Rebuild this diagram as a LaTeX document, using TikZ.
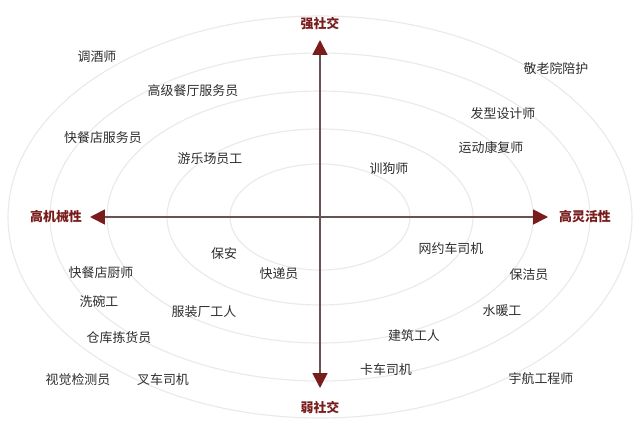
\documentclass[tikz,border=0pt]{standalone}
\usepackage{fontspec}
\usepackage{tikz}
\usetikzlibrary{arrows.meta}
\newfontfamily\cjk{Noto Sans CJK SC}
\definecolor{axisgray}{HTML}{6B5252}
\definecolor{axisred}{HTML}{7A1C1C}
\definecolor{ringgray}{HTML}{EAEAEA}
\definecolor{jobtext}{HTML}{2E2E2E}

\begin{document}
\begin{tikzpicture}[x=0.025cm, y=-0.025cm,
    ring/.style={draw=ringgray, line width=0.8pt},
    axisline/.style={draw=axisgray, line width=1.2pt,
        {Triangle[length=10.5pt, width=10.5pt, color=axisred]}-{Triangle[length=10.5pt, width=10.5pt, color=axisred]}},
    axislabel/.style={font=\cjk\bfseries\fontsize{9.2}{11}\selectfont, text=axisred, inner sep=1pt},
    job/.style={font=\cjk\fontsize{9.2}{11}\selectfont, text=jobtext, inner sep=1pt}
    ]

    \useasboundingbox[fill=white] (0,0) rectangle (640,427);

    % rings round the centre
    \coordinate (O) at (320,217);
    \draw[ring] (O) ellipse [x radius=90, y radius=53];
    \draw[ring] (O) ellipse [x radius=153, y radius=88];
    \draw[ring] (O) ellipse [x radius=213, y radius=126];
    \draw[ring] (O) ellipse [x radius=270, y radius=164];
    \draw[ring] (O) ellipse [x radius=312, y radius=201];

    % axes
    \coordinate (W) at (90,217);
    \coordinate (E) at (548,217);
    \coordinate (N) at (320,40);
    \coordinate (S) at (320,388);
    \draw[axisline] (W) -- (E);
    \draw[axisline] (S) -- (N);

    \node[axislabel] (strong) at (320,24) {强社交};
    \node[axislabel] (weak) at (320,407) {弱社交};
    \node[axislabel] (mech) at (56,217) {高机械性};
    \node[axislabel] (flex) at (585,217) {高灵活性};

    % upper left
    \node[job] (j1) at (97,57) {调酒师};
    \node[job] (j2) at (193,91) {高级餐厅服务员};
    \node[job] (j3) at (103,138) {快餐店服务员};
    \node[job] (j4) at (210,159) {游乐场员工};

    % upper right
    \node[job] (j5) at (556,69) {敬老院陪护};
    \node[job] (j6) at (503,114) {发型设计师};
    \node[job] (j7) at (491,148) {运动康复师};
    \node[job] (j8) at (389,169) {训狗师};

    % lower left
    \node[job] (j9) at (224,254) {保安};
    \node[job] (j10) at (279,274) {快递员};
    \node[job] (j11) at (101,273) {快餐店厨师};
    \node[job] (j12) at (99,302) {洗碗工};
    \node[job] (j13) at (204,312) {服装厂工人};
    \node[job] (j14) at (119,338) {仓库拣货员};
    \node[job] (j15) at (78,380) {视觉检测员};
    \node[job] (j16) at (163,380) {叉车司机};

    % lower right
    \node[job] (j17) at (451,249) {网约车司机};
    \node[job] (j18) at (529,275) {保洁员};
    \node[job] (j19) at (502,311) {水暖工};
    \node[job] (j20) at (414,336) {建筑工人};
    \node[job] (j21) at (386,370) {卡车司机};
    \node[job] (j22) at (541,379) {宇航工程师};

\end{tikzpicture}
\end{document}
